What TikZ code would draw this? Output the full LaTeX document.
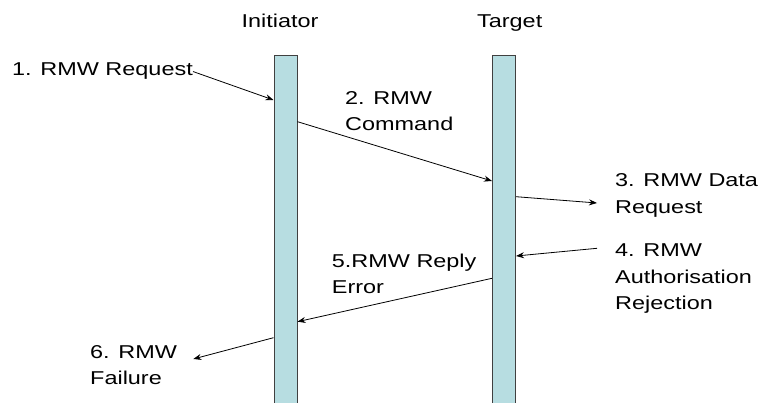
\documentclass[tikz,border=0pt]{standalone}
\usepackage{fontspec}
\setmainfont{Liberation Sans}[FakeStretch=1.26]
\usetikzlibrary{arrows.meta}
\usetikzlibrary{calc}
\definecolor{barfill}{RGB}{183,221,225}
\definecolor{baredge}{RGB}{64,64,64}

\begin{document}
\begin{tikzpicture}[x=1pt,y=-1pt,
	lifeline/.style={draw=baredge,fill=barfill,line width=1pt,minimum width=23pt,minimum height=360pt,anchor=north,inner sep=0pt},
	lbl/.style={inner sep=0pt,anchor=north west,align=left,font=\fontsize{18.6}{26.7}\selectfont},
	msg/.style={line width=0.8pt,-{Stealth[length=8pt,width=6pt]}}]
	\useasboundingbox (0,0) rectangle (759,403);

	\node[lbl,anchor=base] (hini) at (280,27.5) {Initiator};
	\node[lbl,anchor=base] (htgt) at (509.7,27.5) {Target};
	\node[lifeline] (ini) at (285.5,55) {};
	\node[lifeline] (tgt) at (504,55) {};

	\node[lbl,anchor=base west] (q1) at (12,76) {1. RMW Request};
	\node[lbl] (q2) at (345,91) {2. RMW\\Command};
	\node[lbl] (q3) at (615,173.4) {3. RMW Data\\Request};
	\node[lbl] (q4) at (615,243.4) {4. RMW\\Authorisation\\Rejection};
	\node[lbl] (q5) at (331.7,253.4) {5.RMW Reply\\Error};
	\node[lbl] (q6) at (90,345) {6. RMW\\Failure};

	\coordinate (e3) at (597,203);
	\coordinate (s4) at (597,248.3);
	\coordinate (e6) at (193.3,359);

	\draw[msg] (q1.east) -- ($(ini.north west)+(0,45)$);
	\draw[msg] ($(ini.north east)+(0,66.7)$) -- ($(tgt.north west)+(0,126)$);
	\draw[msg] ($(tgt.north east)+(0,141.7)$) -- (e3);
	\draw[msg] (s4) -- ($(tgt.north east)+(0,201)$);
	\draw[msg] ($(tgt.north west)+(0,223.3)$) -- ($(ini.north east)+(0,266.7)$);
	\draw[msg] ($(ini.north west)+(0,282.7)$) -- (e6);
\end{tikzpicture}
\end{document}
